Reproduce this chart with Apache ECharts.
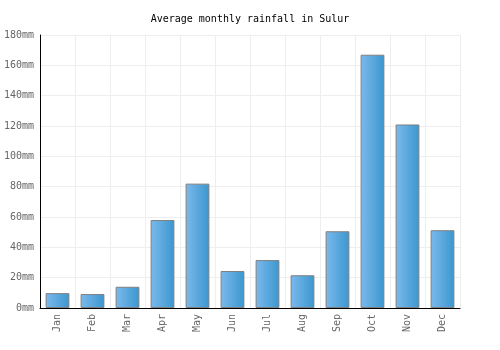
<!DOCTYPE html>
<html>
<head>
<meta charset="utf-8">
<script src="https://cdn.jsdelivr.net/npm/echarts@6/dist/echarts.min.js"></script>
<style>
  html, body { margin: 0; padding: 0; background: #fff; }
  #chart { width: 500px; height: 350px; }
</style>
</head>
<body>
<div id="chart"></div>
<script>
const months = ['Jan', 'Feb', 'Mar', 'Apr', 'May', 'Jun', 'Jul', 'Aug', 'Sep', 'Oct', 'Nov', 'Dec']
const rainfall = [9.8, 9.2, 14, 58, 82, 24.4, 31.6, 21.6, 50.6, 167, 121, 51.3]
const yMax = 180
const yStep = 20

const font = 'DejaVu Sans Mono'
const chart = echarts.init(document.getElementById('chart'))
chart.setOption({
  backgroundColor: '#fff',
  animation: false,
  title: {
    text: 'Average monthly rainfall in Sulur',
    left: 'center',
    top: 9,
    textStyle: { fontFamily: font, fontSize: 10, fontWeight: 'normal', color: '#000' }
  },
  grid: { left: 40, right: 40, top: 35, bottom: 42 },
  xAxis: {
    type: 'category',
    data: months,
    axisLine: { lineStyle: { color: '#000', width: 1 } },
    axisTick: { show: false },
    axisLabel: {
      rotate: 90,
      margin: 6,
      fontFamily: font,
      fontSize: 10,
      color: '#666',
      padding: [5, 0, 0, 0]
    },
    splitLine: { show: true, lineStyle: { color: '#eeeeee' } }
  },
  yAxis: {
    type: 'value',
    min: 0,
    max: yMax,
    interval: yStep,
    axisLine: { show: true, lineStyle: { color: '#000', width: 1 } },
    axisTick: { show: false },
    axisLabel: {
      formatter: '{value}mm',
      margin: 6,
      fontFamily: font,
      fontSize: 10,
      color: '#666'
    },
    splitLine: { lineStyle: { color: '#eeeeee' } }
  },
  series: [{
    type: 'bar',
    data: rainfall,
    barWidth: '68%',
    itemStyle: {
      color: new echarts.graphic.LinearGradient(0, 0, 1, 0, [
        { offset: 0, color: '#7cb9ec' },
        { offset: 1, color: '#3a97cf' }
      ]),
      borderColor: '#808080',
      borderWidth: 1
    }
  }]
})
</script>
</body>
</html>
